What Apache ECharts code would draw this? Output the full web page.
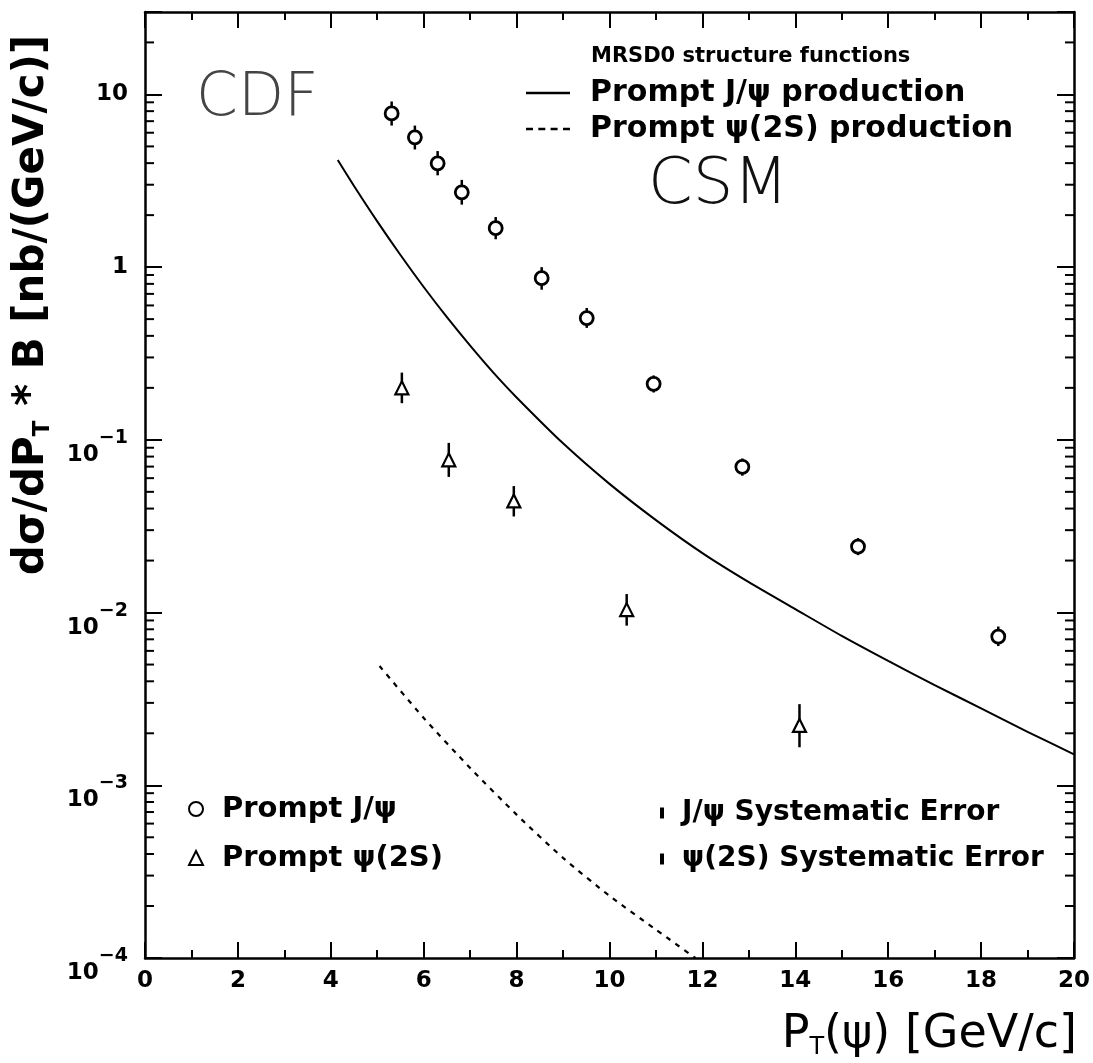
<!DOCTYPE html>
<html>
<head>
<meta charset="utf-8">
<script src="https://cdn.jsdelivr.net/npm/echarts@6/dist/echarts.min.js"></script>
<style>html,body{margin:0;padding:0;background:#fff;}#c{width:1093px;height:1063px;}</style>
</head>
<body>
<div id="c"></div>
<script>
// ---- data ----
// Prompt J/psi measurements
var jpsiX    = [5.31, 5.81, 6.30, 6.82, 7.55, 8.54, 9.51, 10.95, 12.86, 15.35, 18.37];
var jpsiY    = [7.76, 5.64, 3.99, 2.71, 1.68, 0.863, 0.507, 0.211, 0.0698, 0.0241, 0.00726];
var jpsiLow  = [6.6, 4.8, 3.4, 2.3, 1.45, 0.74, 0.445, 0.188, 0.062, 0.0215, 0.0064];
var jpsiHigh = [9.1, 6.6, 4.7, 3.2, 1.95, 1.0, 0.58, 0.236, 0.078, 0.027, 0.0083];
// Prompt psi(2S) measurements
var psiX     = [5.53, 6.54, 7.94, 10.37, 14.09];
var psiY     = [0.200, 0.0766, 0.0443, 0.0104, 0.00222];
var psiLow   = [0.163, 0.061, 0.036, 0.0084, 0.00166];
var psiHigh  = [0.245, 0.096, 0.054, 0.0128, 0.00295];
// CSM theory curves (MRSD0)
var thJpsiX  = [4.15, 4.5, 5, 5.5, 6, 6.5, 7, 7.5, 8, 9, 10, 11, 12, 13, 14, 15, 16, 17, 18, 19, 20];
var thJpsiY  = [4.17, 2.95, 1.84, 1.175, 0.767, 0.513, 0.351, 0.245, 0.176, 0.0955, 0.0556, 0.0343, 0.0221, 0.0150, 0.01047, 0.00733, 0.00525, 0.00380, 0.00279, 0.00204, 0.00151];
var thPsiX   = [5.05, 6, 7, 8, 9, 10, 11, 11.85];
var thPsiY   = [0.00490, 0.002455, 0.001259, 0.000676, 0.000380, 0.000229, 0.000146, 0.0001];
// axis
var xTicks   = [0, 2, 4, 6, 8, 10, 12, 14, 16, 18, 20];
var yDecades = [-4, -3, -2, -1, 0, 1];
var yMin = 1e-4, yMax = 30;

// ---- build ----
function zip(a, b) { return a.map(function (v, i) { return [v, b[i]]; }); }
var minorVals = [];
yDecades.forEach(function (d) {
  for (var k = 2; k <= 9; k++) { var v = k * Math.pow(10, d); if (v < yMax) minorVals.push([0, v]); }
});
var FONT = '"DejaVu Sans", sans-serif';

function errRender(params, api) {
  var p1 = api.coord([api.value(0), api.value(1)]);
  var p2 = api.coord([api.value(0), api.value(2)]);
  return { type: 'line', shape: { x1: p1[0], y1: p1[1], x2: p2[0], y2: p2[1] },
           style: { stroke: '#000', lineWidth: 2.5 } };
}

var chart = echarts.init(document.getElementById('c'));
var yLabel = function (v) {
  var d = Math.round(Math.log10(v));
  if (Math.abs(Math.log10(v) - d) > 1e-6) return '';
  if (d === 1) return '{n|10}';
  if (d === 0) return '{n|1}';
  return '{b|10}{s|\u2212' + (-d) + '}';
};
var labelRich = {
  n: { fontSize: 23, fontWeight: 'bold', fontFamily: FONT, color: '#000' },
  b: { fontSize: 23, fontWeight: 'bold', fontFamily: FONT, color: '#000', lineHeight: 53, verticalAlign: 'bottom' },
  s: { fontSize: 19, fontWeight: 'bold', fontFamily: FONT, color: '#000', padding: [15, 0, 0, 0], verticalAlign: 'top' }
};
var solidIcon  = 'path://M0,0h44v2.5h-44z';
var dashedIcon = 'path://M0,0h7v2.5h-7z M12.3,0h7v2.5h-7z M24.6,0h7v2.5h-7z M37,0h7v2.5h-7z';

var option = {
  backgroundColor: '#fff',
  animation: false,
  grid: { left: 145, right: 18, top: 12, bottom: 105, containLabel: false },
  xAxis: [{
    type: 'value', min: 0, max: 20, interval: 2, position: 'bottom',
    axisLine: { show: true, onZero: false, lineStyle: { color: '#000', width: 2.5 } },
    axisTick: { show: true, inside: true, length: 16, lineStyle: { color: '#000', width: 2 } },
    minorTick: { show: true, splitNumber: 2, length: 8, lineStyle: { color: '#000', width: 2 } },
    splitLine: { show: false },
    axisLabel: { fontSize: 23, fontWeight: 'bold', fontFamily: FONT, color: '#000', margin: 12,
                 formatter: function (v) { return xTicks.indexOf(v) >= 0 ? String(v) : ''; } }
  }, {
    type: 'value', min: 0, max: 20, interval: 2, position: 'top',
    axisLine: { show: true, onZero: false, lineStyle: { color: '#000', width: 2.5 } },
    axisTick: { show: true, inside: true, length: 16, lineStyle: { color: '#000', width: 2 } },
    minorTick: { show: true, splitNumber: 2, length: 8, lineStyle: { color: '#000', width: 2 } },
    splitLine: { show: false }, axisLabel: { show: false }
  }],
  yAxis: [{
    type: 'log', logBase: 10, min: yMin, max: yMax, position: 'left',
    axisLine: { show: true, onZero: false, lineStyle: { color: '#000', width: 2.5 } },
    axisTick: { show: true, inside: true, length: 17, lineStyle: { color: '#000', width: 2 } },
    splitLine: { show: false },
    axisLabel: { margin: 17, formatter: yLabel, rich: labelRich }
  }, {
    type: 'log', logBase: 10, min: yMin, max: yMax, position: 'right',
    axisLine: { show: true, onZero: false, lineStyle: { color: '#000', width: 2.5 } },
    axisTick: { show: true, inside: true, length: 17, lineStyle: { color: '#000', width: 2 } },
    splitLine: { show: false }, axisLabel: { show: false }
  }],
  legend: [{
    orient: 'vertical', left: 521, top: 70, itemWidth: 44, itemHeight: 14, itemGap: 0,
    textStyle: { fontSize: 30, fontFamily: FONT, fontWeight: 'bold', color: '#000', padding: [0, 0, 0, 15], lineHeight: 36 },
    data: [{ name: 'Prompt J/\u03c8 production', icon: solidIcon }, { name: 'Prompt \u03c8(2S) production', icon: dashedIcon }],
    selectedMode: false
  }, {
    orient: 'vertical', left: 183, top: 786, itemWidth: 14, itemHeight: 14, itemGap: 13,
    textStyle: { fontSize: 29, fontFamily: FONT, fontWeight: 'bold', color: '#000', padding: [0, 0, 0, 14], lineHeight: 36 },
    data: ['Prompt J/\u03c8', 'Prompt \u03c8(2S)'],
    selectedMode: false
  }, {
    orient: 'vertical', left: 655, top: 790, itemWidth: 4, itemHeight: 11, itemGap: 10,
    textStyle: { fontSize: 28, fontFamily: FONT, fontWeight: 'bold', color: '#000', padding: [0, 0, 0, 13], lineHeight: 36 },
    data: [{ name: 'J/\u03c8 Systematic Error', icon: 'rect' }, { name: '\u03c8(2S) Systematic Error', icon: 'rect' }],
    selectedMode: false
  }],
  graphic: [
    { type: 'text', left: 591, top: 46, style: { text: 'MRSD0 structure functions', font: 'bold 21px "DejaVu Sans", sans-serif', fill: '#000' } },
    { type: 'text', x: 196, y: 99, style: { text: 'CDF', font: '200 60px "DejaVu Sans", sans-serif', fill: '#444', verticalAlign: 'middle' } },
    { type: 'text', x: 648, y: 186, style: { text: 'CSM', font: '200 64px "DejaVu Sans", sans-serif', fill: '#111', verticalAlign: 'middle' } },
    { type: 'text', x: 32, y: 305, rotation: Math.PI / 2,
      style: { text: '{a|d\u03c3/dP}{t|T}{a| * B [nb/(GeV/c)]}', align: 'center', verticalAlign: 'middle',
        rich: { a: { fontSize: 42, fontWeight: 'bold', fontFamily: FONT, fill: '#000', lineHeight: 46, verticalAlign: 'middle' },
                t: { fontSize: 23, fontWeight: 'bold', fontFamily: FONT, fill: '#000', verticalAlign: 'bottom' } } } },
    { type: 'text', x: 1077, y: 1035,
      style: { text: '{a|P}{t|T}{a|(\u03c8) [GeV/c]}', align: 'right', verticalAlign: 'middle',
        rich: { a: { fontSize: 46, fontFamily: FONT, fill: '#000', lineHeight: 50, verticalAlign: 'middle' },
                t: { fontSize: 24, fontFamily: FONT, fill: '#000', verticalAlign: 'bottom' } } } }
  ],
  series: [
    { name: 'Prompt J/\u03c8 production', type: 'line', data: zip(thJpsiX, thJpsiY), smooth: 0.25,
      symbol: 'none', lineStyle: { color: '#000', width: 2 }, itemStyle: { color: '#000' }, z: 3 },
    { name: 'Prompt \u03c8(2S) production', type: 'line', data: zip(thPsiX, thPsiY), smooth: 0.25,
      symbol: 'none', lineStyle: { color: '#000', width: 2.2, type: [5, 6] }, itemStyle: { color: '#000' }, z: 3 },
    { name: 'J/\u03c8 Systematic Error', type: 'custom', renderItem: errRender, itemStyle: { color: '#000' },
      data: jpsiX.map(function (x, i) { return [x, jpsiLow[i], jpsiHigh[i]]; }), z: 4 },
    { name: '\u03c8(2S) Systematic Error', type: 'custom', renderItem: errRender, itemStyle: { color: '#000' },
      data: psiX.map(function (x, i) { return [x, psiLow[i], psiHigh[i]]; }), z: 4 },
    { name: 'Prompt J/\u03c8', type: 'scatter', data: zip(jpsiX, jpsiY), symbol: 'circle', symbolSize: 13,
      itemStyle: { color: '#fff', borderColor: '#000', borderWidth: 2.8, opacity: 1 }, z: 5 },
    { name: 'Prompt \u03c8(2S)', type: 'scatter', data: zip(psiX, psiY), symbol: 'triangle', symbolSize: 13,
      itemStyle: { color: '#fff', borderColor: '#000', borderWidth: 2.2, opacity: 1 }, z: 5 },
    { name: 'minorTicks', type: 'custom', silent: true, data: minorVals, clip: false, z: 6,
      renderItem: function (params, api) {
        var a = api.coord([0, api.value(1)]);
        var b = api.coord([20, api.value(1)]);
        return { type: 'group', children: [
          { type: 'line', shape: { x1: a[0], y1: a[1], x2: a[0] + 9, y2: a[1] }, style: { stroke: '#000', lineWidth: 2 } },
          { type: 'line', shape: { x1: b[0], y1: b[1], x2: b[0] - 9, y2: b[1] }, style: { stroke: '#000', lineWidth: 2 } }
        ] };
      } }
  ]
};
chart.setOption(option);
</script>
</body>
</html>
